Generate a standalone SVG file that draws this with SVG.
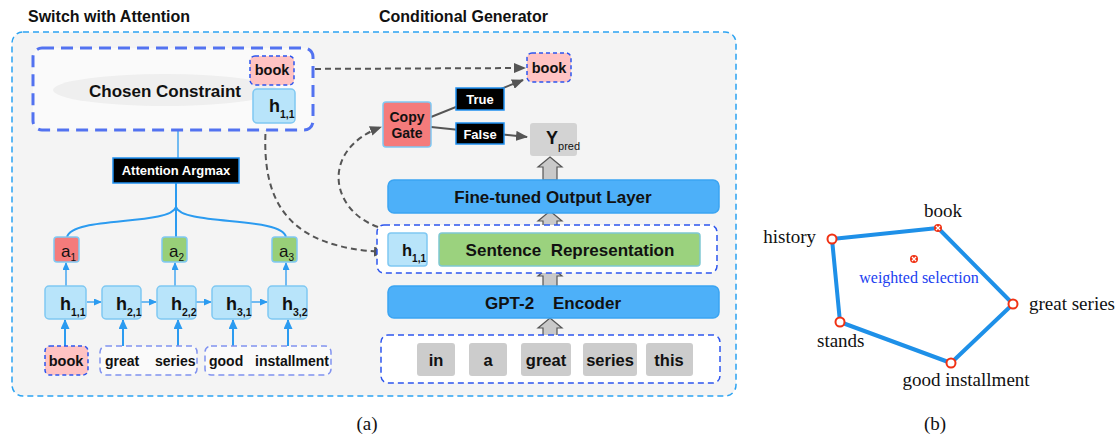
<svg xmlns="http://www.w3.org/2000/svg" width="1118" height="436" viewBox="0 0 1118 436">
<defs>
<marker id="ag" markerUnits="userSpaceOnUse" markerWidth="12" markerHeight="10" refX="11" refY="5" orient="auto"><path d="M0,0 L12,5 L0,10 Z" fill="#555"/></marker>
<marker id="ab" markerUnits="userSpaceOnUse" markerWidth="8" markerHeight="7" refX="7" refY="3.5" orient="auto"><path d="M0,0 L8,3.5 L0,7 Z" fill="#2b9bf0"/></marker>
<marker id="ab2" markerUnits="userSpaceOnUse" markerWidth="10" markerHeight="9" refX="9" refY="4.5" orient="auto"><path d="M0,0 L10,4.5 L0,9 Z" fill="#2b9bf0"/></marker>
</defs>
<style>
.t{font-family:"Liberation Sans",Arial,sans-serif;font-weight:bold;fill:#111}
.tw{font-family:"Liberation Sans",Arial,sans-serif;font-weight:bold;fill:#fff}
.tn{font-family:"Liberation Sans",Arial,sans-serif;fill:#111}
.s{font-family:"Liberation Serif","Times New Roman",serif;fill:#111}
.hb{fill:#b8e4fa;stroke:#7fc8f2;stroke-width:1.5}
.blk{fill:#4db0f9;stroke:#3aa4f2;stroke-width:1.5}
.pink{fill:#ffc3c3;stroke:#2d55ee;stroke-width:1.5;stroke-dasharray:4 3}
.tok{fill:#cccccc}
.lab{fill:#000;stroke:#1e8ff0;stroke-width:1.5}
.ba{fill:#c9c9c9;stroke:#555;stroke-width:1.2}
.gd{fill:none;stroke:#555;stroke-width:2;stroke-dasharray:6 4}
.bl{fill:none;stroke:#2b9bf0;stroke-width:1.3}
.bl2{fill:none;stroke:#2b9bf0;stroke-width:2}
</style>
<rect width="1118" height="436" fill="#fff"/>

<g id="titles">
<text class="t" x="28" y="22" font-size="16">Switch with Attention</text>
<text class="t" x="379" y="22" font-size="16">Conditional Generator</text>
</g>

<g id="outer">
<rect x="12" y="32" width="724" height="364" rx="11" fill="#f4f4f4" stroke="#2ba3f2" stroke-width="1.5" stroke-dasharray="6 4"/>
</g>

<g id="connectors">
<line class="bl" x1="178" y1="131" x2="178" y2="158"/>
<line class="bl2" x1="176" y1="183" x2="176" y2="237"/>
<path class="bl2" d="M176,207 C170,226 72,216 67,237"/>
<path class="bl2" d="M176,207 C182,226 282,216 286,237"/>
<line class="bl" x1="66" y1="286" x2="66" y2="263" marker-end="url(#ab)"/>
<line class="bl" x1="175" y1="286" x2="175" y2="263" marker-end="url(#ab)"/>
<line class="bl" x1="286" y1="286" x2="286" y2="263" marker-end="url(#ab)"/>
<line class="bl" x1="87" y1="302" x2="101" y2="302" marker-end="url(#ab)"/>
<line class="bl" x1="141" y1="302" x2="156" y2="302" marker-end="url(#ab)"/>
<line class="bl" x1="196" y1="302" x2="211" y2="302" marker-end="url(#ab)"/>
<line class="bl" x1="251" y1="302" x2="267" y2="302" marker-end="url(#ab)"/>
<line class="bl2" x1="65" y1="346" x2="65" y2="320" marker-end="url(#ab2)"/>
<line class="bl2" x1="123" y1="346" x2="123" y2="320" marker-end="url(#ab2)"/>
<line class="bl2" x1="178" y1="346" x2="178" y2="320" marker-end="url(#ab2)"/>
<line class="bl2" x1="233" y1="346" x2="233" y2="320" marker-end="url(#ab2)"/>
<line class="bl2" x1="288" y1="346" x2="288" y2="320" marker-end="url(#ab2)"/>
<line class="gd" x1="295" y1="69" x2="525" y2="68" marker-end="url(#ag)"/>
<path class="gd" d="M266,124 C260,205 290,248 385,252" marker-end="url(#ag)"/>
<path class="gd" d="M378,227 C330,210 320,150 381,127" marker-end="url(#ag)"/>
<line x1="431" y1="117" x2="523" y2="80" stroke="#555" stroke-width="2" marker-end="url(#ag)"/>
<line x1="431" y1="127" x2="527" y2="137" stroke="#555" stroke-width="2" marker-end="url(#ag)"/>
<polygon class="ba" points="550,157 562,167 557,167 557,180 543,180 543,167 538,167"/>
<polygon class="ba" points="550,211 562,221 557,221 557,233 543,233 543,221 538,221"/>
<polygon class="ba" points="550,266 562,276 557,276 557,287 543,287 543,276 538,276"/>
<polygon class="ba" points="550,318 562,328 557,328 557,336 543,336 543,328 538,328"/>
</g>

<g id="chosen-constraint">
<rect x="33" y="48" width="280" height="82" rx="9" fill="#fafafa" stroke="#5272f0" stroke-width="3" stroke-dasharray="12 7"/>
<ellipse cx="165" cy="90" rx="112" ry="16" fill="#efefef"/>
<text class="t" x="165" y="97" font-size="17" text-anchor="middle">Chosen Constraint</text>
</g>
<g id="book-top">
<rect class="pink" x="250" y="56" width="44" height="29" rx="5"/>
<text class="t" x="272" y="75" font-size="14.5" text-anchor="middle">book</text>
</g>
<g id="h11-top">
<rect class="hb" x="253" y="89" width="42" height="34" rx="4"/>
<text class="t" x="269" y="112" font-size="18">h<tspan font-size="10.5" dy="6">1,1</tspan></text>
</g>
<g id="attention-argmax">
<rect class="lab" x="113" y="158" width="126" height="25"/>
<text class="tw" x="176" y="175" font-size="13" text-anchor="middle">Attention Argmax</text>
</g>

<g id="a1"><rect x="54" y="237" width="25" height="25" rx="3" fill="#f47b7b" stroke="#7fc8f2" stroke-width="1.5"/><text class="tn" x="61" y="257" font-size="17">a<tspan font-size="10" dy="4">1</tspan></text></g>
<g id="a2"><rect x="162" y="237" width="25" height="25" rx="3" fill="#98cf78" stroke="#7fc8f2" stroke-width="1.5"/><text class="tn" x="169" y="257" font-size="17">a<tspan font-size="10" dy="4">2</tspan></text></g>
<g id="a3"><rect x="272" y="237" width="25" height="25" rx="3" fill="#98cf78" stroke="#7fc8f2" stroke-width="1.5"/><text class="tn" x="279" y="257" font-size="17">a<tspan font-size="10" dy="4">3</tspan></text></g>

<g id="h11"><rect class="hb" x="45" y="286" width="41" height="33" rx="4"/><text class="t" x="60" y="310" font-size="18">h<tspan font-size="10.5" dy="6">1,1</tspan></text></g>
<g id="h21"><rect class="hb" x="102" y="286" width="39" height="33" rx="4"/><text class="t" x="116" y="310" font-size="18">h<tspan font-size="10.5" dy="6">2,1</tspan></text></g>
<g id="h22"><rect class="hb" x="157" y="286" width="39" height="33" rx="4"/><text class="t" x="171" y="310" font-size="18">h<tspan font-size="10.5" dy="6">2,2</tspan></text></g>
<g id="h31"><rect class="hb" x="212" y="286" width="39" height="33" rx="4"/><text class="t" x="226" y="310" font-size="18">h<tspan font-size="10.5" dy="6">3,1</tspan></text></g>
<g id="h32"><rect class="hb" x="268" y="286" width="39" height="33" rx="4"/><text class="t" x="282" y="310" font-size="18">h<tspan font-size="10.5" dy="6">3,2</tspan></text></g>

<g id="tok-book"><rect class="pink" x="45" y="346" width="43" height="29" rx="5"/><text class="t" x="66" y="366" font-size="14.5" text-anchor="middle">book</text></g>
<g id="tok-great-series"><rect x="100" y="346" width="97" height="29" rx="6" fill="#fafafa" stroke="#8092f0" stroke-width="1.5" stroke-dasharray="6 4"/><text class="t" x="105" y="366" font-size="14">great</text><text class="t" x="155" y="366" font-size="14">series</text></g>
<g id="tok-good-installment"><rect x="205" y="346" width="126" height="29" rx="6" fill="#fafafa" stroke="#8092f0" stroke-width="1.5" stroke-dasharray="6 4"/><text class="t" x="209" y="366" font-size="14">good</text><text class="t" x="255" y="366" font-size="14">installment</text></g>

<g id="book-out"><rect class="pink" x="527" y="53" width="44" height="29" rx="5"/><text class="t" x="549" y="73" font-size="14.5" text-anchor="middle">book</text></g>
<g id="copy-gate"><rect x="383" y="102" width="48" height="45" rx="3" fill="#f47b7b" stroke="#7fc8f2" stroke-width="1.5"/><text class="t" x="407" y="122" font-size="14" text-anchor="middle">Copy</text><text class="t" x="407" y="138" font-size="14" text-anchor="middle">Gate</text></g>
<g id="true-label"><rect class="lab" x="456" y="88" width="48" height="22"/><text class="tw" x="480" y="104" font-size="13" text-anchor="middle">True</text></g>
<g id="false-label"><rect class="lab" x="456" y="123" width="48" height="21"/><text class="tw" x="480" y="139" font-size="13" text-anchor="middle">False</text></g>
<g id="ypred"><rect x="530" y="123" width="47" height="33" rx="3" fill="#d3d3d3"/><text class="t" x="546" y="144" font-size="18">Y<tspan font-size="11" font-weight="normal" dy="6">pred</tspan></text></g>

<g id="fine-tuned"><rect class="blk" x="388" y="180" width="331" height="33" rx="6"/><text class="t" x="553" y="203" font-size="17" text-anchor="middle">Fine-tuned Output Layer</text></g>
<g id="sentence-rep">
<rect x="377" y="225" width="340" height="48" rx="7" fill="#fff" stroke="#2d55ee" stroke-width="1.5" stroke-dasharray="6 4"/>
<rect class="hb" x="388" y="233" width="39" height="33" rx="3"/>
<text class="t" x="402" y="256" font-size="16.5">h<tspan font-size="10" dy="6">1,1</tspan></text>
<rect x="439" y="233" width="261" height="33" rx="3" fill="#9bd27e" stroke="#7fc8d2" stroke-width="1.5"/>
<text class="t" x="570" y="256" font-size="17" text-anchor="middle" xml:space="preserve">Sentence  Representation</text>
</g>
<g id="gpt2"><rect class="blk" x="388" y="286" width="331" height="32" rx="6"/><text class="t" x="553" y="309" font-size="17" text-anchor="middle" xml:space="preserve">GPT-2    Encoder</text></g>
<g id="input-tokens">
<rect x="381" y="335" width="339" height="48" rx="7" fill="#fff" stroke="#2d55ee" stroke-width="1.5" stroke-dasharray="6 4"/>
<rect class="tok" x="417" y="343" width="38" height="33" rx="3"/><text class="t" x="436" y="366" font-size="16.5" text-anchor="middle">in</text>
<rect class="tok" x="469" y="343" width="38" height="33" rx="3"/><text class="t" x="488" y="366" font-size="16.5" text-anchor="middle">a</text>
<rect class="tok" x="521" y="343" width="50" height="33" rx="3"/><text class="t" x="546" y="366" font-size="16.5" text-anchor="middle">great</text>
<rect class="tok" x="583" y="343" width="54" height="33" rx="3"/><text class="t" x="610" y="366" font-size="16.5" text-anchor="middle">series</text>
<rect class="tok" x="646" y="343" width="47" height="33" rx="3"/><text class="t" x="669" y="366" font-size="16.5" text-anchor="middle">this</text>
</g>

<g id="panel-b">
<polygon points="832,239 938,228 1013,304 951,363 840,322" fill="none" stroke="#1e90e8" stroke-width="4" stroke-linejoin="round"/>
<circle cx="832" cy="239" r="4.5" fill="#fff" stroke="#f03214" stroke-width="2"/>
<circle cx="1013" cy="304" r="4.5" fill="#fff" stroke="#f03214" stroke-width="2"/>
<circle cx="951" cy="363" r="4.5" fill="#fff" stroke="#f03214" stroke-width="2"/>
<circle cx="840" cy="322" r="4.5" fill="#fff" stroke="#f03214" stroke-width="2"/>
<circle cx="938" cy="228" r="4" fill="#f03214"/>
<path d="M936,226 L940,230 M940,226 L936,230" stroke="#fff" stroke-width="1.3"/>
<circle cx="914" cy="259" r="4" fill="#f03214"/>
<path d="M912,257 L916,261 M916,257 L912,261" stroke="#fff" stroke-width="1.3"/>
<text class="s" x="816" y="243" font-size="19" text-anchor="end">history</text>
<text class="s" x="943" y="217" font-size="19" text-anchor="middle">book</text>
<text class="s" x="1029" y="310" font-size="19">great series</text>
<text class="s" x="817" y="347" font-size="19">stands</text>
<text class="s" x="966" y="386" font-size="19" text-anchor="middle">good installment</text>
<text class="s" x="919" y="283" font-size="16" text-anchor="middle" style="fill:#2040f0">weighted selection</text>
</g>

<g id="captions">
<text class="s" x="367" y="430" font-size="19" text-anchor="middle">(a)</text>
<text class="s" x="935" y="430" font-size="19" text-anchor="middle">(b)</text>
</g>
</svg>
